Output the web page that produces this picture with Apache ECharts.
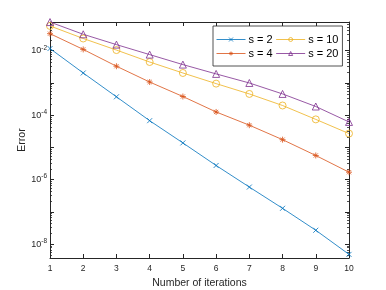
<!DOCTYPE html>
<html><head><meta charset="utf-8">
<script src="https://cdn.jsdelivr.net/npm/echarts@6/dist/echarts.min.js"></script>
<style>html,body{margin:0;padding:0;background:#fff}#c{width:386px;height:290px}</style>
</head><body><div id="c"></div>
<script>
const iterations = [1, 2, 3, 4, 5, 6, 7, 8, 9, 10];
const s2  = [1.17e-2, 2.04e-3, 3.72e-4, 6.76e-5, 1.38e-5, 2.75e-6, 5.89e-7, 1.29e-7, 2.69e-8, 4.79e-9];
const s4  = [3.39e-2, 1.10e-2, 3.31e-3, 1.07e-3, 3.80e-4, 1.26e-4, 4.90e-5, 1.74e-5, 5.62e-6, 1.70e-6];
const s10 = [5.89e-2, 2.40e-2, 1.05e-2, 4.47e-3, 2.04e-3, 9.55e-4, 4.57e-4, 2.00e-4, 7.41e-5, 2.69e-5];
const s20 = [7.76e-2, 3.24e-2, 1.55e-2, 7.59e-3, 3.72e-3, 1.91e-3, 1.00e-3, 4.57e-4, 1.86e-4, 6.17e-5];
const seriesNames = ['s = 2', 's = 4', 's = 10', 's = 20'];
const yTickExponents = [-8, -6, -4, -2];

const colors = ['#0072BD', '#D95319', '#EDB120', '#7E2F8E'];
const axisCol = '#262626';
const font = 'Liberation Sans, Arial, sans-serif';

function pairs(arr){ return iterations.map((x,i)=>[x, arr[i]]); }

const symbols = [
  'path://M0,0L10,10M10,0L0,10',
  'path://M5,0L5,10M0,5L10,5M1.5,1.5L8.5,8.5M8.5,1.5L1.5,8.5',
  'circle',
  'triangle'
];
const sizes = [5, 6, 7, 7];
const datas = [s2, s4, s10, s20];

const series = datas.map((d,i)=>({
  name: seriesNames[i], type: 'line', xAxisIndex: 0, yAxisIndex: 0,
  data: pairs(d), symbol: symbols[i], symbolSize: sizes[i], showAllSymbol: true,
  lineStyle: {color: colors[i], width: 1, opacity: 0.8},
  itemStyle: {color: 'rgba(0,0,0,0)', borderColor: colors[i], borderWidth: 0.8},
  emphasis: {disabled: true}, animation: false
}));

const yMin = 3.7e-9, yMax = 0.078;
const tickCommon = {inside: true, length: 4, lineStyle: {color: axisCol, width: 1}};
const minorCommon = {show: true, splitNumber: 8, length: 2, lineStyle: {color: axisCol, width: 0.8}};
function yLabel(v){
  const l = Math.log10(v), e = Math.round(l);
  if (Math.abs(l - e) > 0.01 || yTickExponents.indexOf(e) < 0) return '';
  return '{b|10}{s|' + e + '}';
}
const chart = echarts.init(document.getElementById('c'), null, {renderer: 'canvas'});
chart.setOption({
  backgroundColor: '#fff',
  animation: false,
  grid: {left: 50, right: 37, top: 22, bottom: 32, containLabel: false, outerBoundsMode: 'none'},
  legend: {
    data: ['s = 2', 's = 10', 's = 4', 's = 20'],
    left: 213, top: 26, width: 126,
    itemWidth: 29, itemHeight: 5, itemGap: 3,
    padding: [8, 4, 7, 3],
    borderColor: axisCol, borderWidth: 0.8, backgroundColor: '#fff',
    lineStyle: {width: 1, opacity: 0.8},
    itemStyle: {color: 'rgba(0,0,0,0)', borderWidth: 0.8},
    textStyle: {fontFamily: font, fontSize: 11, color: '#000', padding: [0, 0, 0, -2]}
  },
  xAxis: [{
    type: 'value', min: 1, max: 10, interval: 1, position: 'bottom',
    name: 'Number of iterations', nameLocation: 'middle', nameGap: 20, nameMoveOverlap: false,
    nameTextStyle: {fontFamily: font, fontSize: 10.5, color: axisCol},
    axisLine: {lineStyle: {color: axisCol}}, axisTick: tickCommon,
    axisLabel: {fontFamily: font, fontSize: 8.5, color: axisCol, margin: 6},
    splitLine: {show: false}
  }, {
    type: 'value', min: 1, max: 10, interval: 1, position: 'top',
    axisLine: {lineStyle: {color: axisCol}}, axisTick: tickCommon,
    axisLabel: {show: false}, splitLine: {show: false}
  }],
  yAxis: [{
    type: 'log', min: yMin, max: yMax, position: 'left',
    name: 'Error', nameLocation: 'middle', nameGap: 22, nameMoveOverlap: false,
    nameTextStyle: {fontFamily: font, fontSize: 10.5, color: axisCol},
    axisLine: {show: true, lineStyle: {color: axisCol}}, axisTick: tickCommon,
    minorTick: minorCommon,
    axisLabel: {fontFamily: font, color: axisCol, margin: 3, formatter: yLabel,
      rich: {
        b: {fontFamily: font, fontSize: 9, color: axisCol},
        s: {fontFamily: font, fontSize: 6.5, color: axisCol, padding: [0, 0, 6, 0]}
      }},
    splitLine: {show: false}
  }, {
    type: 'log', min: yMin, max: yMax, position: 'right',
    axisLine: {show: true, lineStyle: {color: axisCol}}, axisTick: tickCommon,
    minorTick: minorCommon,
    axisLabel: {show: false}, splitLine: {show: false}
  }],
  series: series
});
</script></body></html>
